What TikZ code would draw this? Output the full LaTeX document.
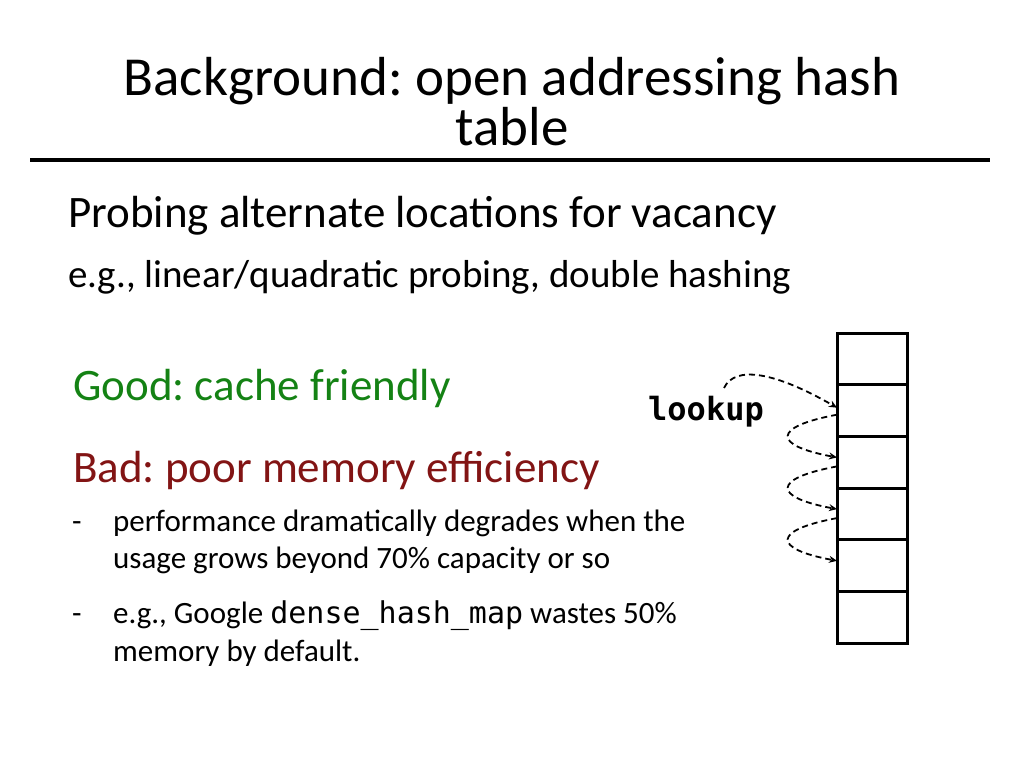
\documentclass[tikz,border=0pt]{standalone}
\usepackage{fontspec}
\setmainfont{Carlito}
\setmonofont{DejaVu Sans Mono}
\frenchspacing
\usetikzlibrary{positioning}
\usetikzlibrary{arrows.meta}
\definecolor{goodgreen}{RGB}{20,130,20}
\definecolor{badred}{RGB}{130,20,20}
\begin{document}
\begin{tikzpicture}[x=1pt,y=-1pt,
        txt/.style={anchor=base west, inner sep=0pt},
        small/.style={txt, font=\fontsize{31}{36}\selectfont},
        cell/.style={draw, line width=3pt, outer sep=0pt, minimum width=70pt, minimum height=51.7pt, inner sep=0pt},
        probe/.style={line width=1.8pt, dash pattern=on 6pt off 4pt, -{Stealth[length=8pt,width=7pt]}}]
    \useasboundingbox (0,0) rectangle (1024,768);
    \node[font=\fontsize{55}{50}\selectfont, inner sep=0pt, anchor=base] (title1) at (512,95) {Background: open addressing hash};
    \node[font=\fontsize{55}{50}\selectfont, inner sep=0pt, anchor=base] (title2) at (512,145) {table};
    \draw[line width=3.5pt] (30,160) -- (990,160);
    \node[txt, font=\fontsize{45}{40}\selectfont] (probing) at (68,227) {Probing alternate locations for vacancy};
    \node[txt, font=\fontsize{39}{36}\selectfont] (eg) at (68,287) {e.g., linear/quadratic probing, double hashing};
    \node[txt, font=\fontsize{45}{40}\selectfont, text=goodgreen] (good) at (73,400) {Good: cache friendly};
    \node[txt, font=\fontsize{45}{40}\selectfont, text=badred] (bad) at (73,482) {Bad: poor memory efficiency};
    \node[small] (d1) at (72,531) {-};
    \node[small] (b1a) at (113,531) {performance dramatically degrades when the};
    \node[small] (b1b) at (113,568) {usage grows beyond 70\% capacity or so};
    \node[small] (d2) at (72,623) {-};
    \node[small] (b2a) at (113,623) {e.g., Google {\fontsize{30}{30}\selectfont\ttfamily dense\_hash\_map} wastes 50\%};
    \node[small] (b2b) at (113,661) {memory by default.};
    \node[txt, font=\fontsize{32}{30}\selectfont\ttfamily\bfseries] (lookup) at (648,420) {lookup};
    % hash table slots
    \node[cell] (c1) at (872,359) {};
    \foreach \i [count=\j from 2] in {1,...,5}
        \node[cell, below=0pt of c\i] (c\j) {};
    % probe sequence
    \draw[probe] (724,388) .. controls (735,365) and (775,372) .. ([yshift=3pt]c2.west);
    \foreach \i [count=\j from 3] in {2,3,4}
        \draw[probe] ([yshift=-4pt]c\i.west) .. controls +(-65,12) and +(-65,-12) .. ([yshift=5pt]c\j.west);
\end{tikzpicture}
\end{document}
